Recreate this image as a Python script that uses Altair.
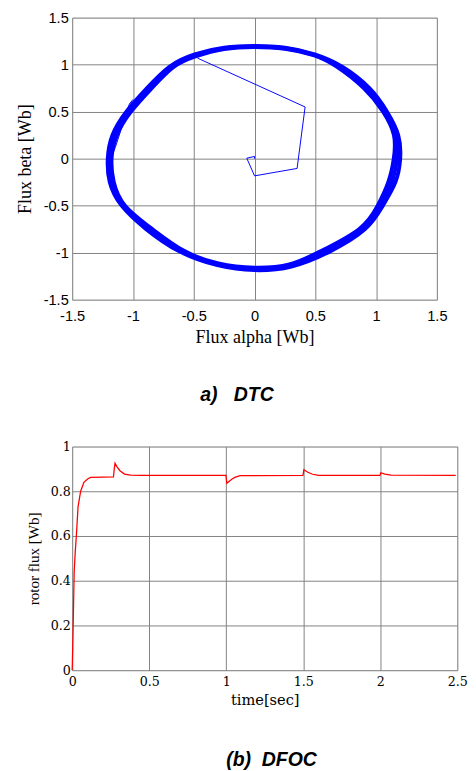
import altair as alt
import pandas as pd

# ---------- top chart: stator flux locus (DTC) ----------
outer_a = [1.204, 1.199, 1.094, 0.965, 0.715, 0.5, 0.25, 0.0, -0.25, -0.5, -0.704, -0.885, -1.064, -1.184, -1.214, -1.204, -1.114, -0.90, -0.634, -0.3, 0.0, 0.3, 0.62, 0.945, 1.054, 1.174]
outer_b = [0.0, 0.25, 0.5, 0.75, 1.0, 1.116, 1.19, 1.202, 1.19, 1.116, 1.0, 0.75, 0.5, 0.25, 0.0, -0.25, -0.5, -0.75, -1.0, -1.15, -1.199, -1.171, -1.0, -0.75, -0.5, -0.25]
mid_a = [1.177, 1.182, 1.08, 0.94, 0.69, 0.5, 0.25, 0.0, -0.25, -0.5, -0.685, -0.865, -1.045, -1.165, -1.20, -1.185, -1.105, -0.87, -0.61, -0.3, 0.0, 0.3, 0.57, 0.925, 1.035, 1.14]
mid_b = [0.0, 0.25, 0.5, 0.75, 1.0, 1.111, 1.185, 1.197, 1.185, 1.101, 1.0, 0.75, 0.5, 0.25, 0.0, -0.25, -0.5, -0.75, -1.0, -1.14, -1.185, -1.158, -1.0, -0.75, -0.5, -0.25]
inner_a = [1.149, 1.166, 1.066, 0.915, 0.665, 0.5, 0.25, 0.0, -0.25, -0.5, -0.666, -0.845, -1.026, -1.146, -1.186, -1.166, -1.096, -0.84, -0.586, -0.3, 0.0, 0.3, 0.52, 0.905, 1.016, 1.109]
inner_b = [0.0, 0.25, 0.5, 0.75, 1.0, 1.106, 1.18, 1.192, 1.18, 1.086, 1.0, 0.75, 0.5, 0.25, 0.0, -0.25, -0.5, -0.75, -1.0, -1.13, -1.171, -1.145, -1.0, -0.75, -0.5, -0.25]

start_a = [0.0, 0.0, -0.064, 0.0, 0.35, 0.416, -0.47]
start_b = [0.0, 0.024, 0.005, -0.183, -0.104, 0.55, 1.07]
left1_a = [-1.0, -1.03, -1.066, -1.12, -1.16, -1.175]
left1_b = [0.63, 0.58, 0.44, 0.27, 0.10, 0.03]
left2_a = [-1.01, -1.05, -1.10, -1.145, -1.17]
left2_b = [0.60, 0.47, 0.30, 0.12, 0.04]

# ---------- bottom chart: rotor flux (DFOC) ----------
t_sec = [0, 0.004, 0.008, 0.013, 0.02, 0.027, 0.038, 0.055, 0.076, 0.1, 0.119, 0.2, 0.268, 0.273, 0.278, 0.29, 0.31, 0.34, 0.38, 0.45, 0.998, 1.004, 1.02, 1.04, 1.06, 1.09, 1.498, 1.504, 1.53, 1.56, 1.6, 1.998, 2.004, 2.03, 2.07, 2.49]
flux = [0, 0.12, 0.26, 0.44, 0.53, 0.6, 0.73, 0.8, 0.84, 0.855, 0.862, 0.863, 0.864, 0.9, 0.925, 0.91, 0.892, 0.877, 0.872, 0.871, 0.871, 0.836, 0.845, 0.856, 0.863, 0.87, 0.871, 0.896, 0.885, 0.876, 0.871, 0.871, 0.883, 0.877, 0.872, 0.871]

xy_ticks = [-1.5, -1, -0.5, 0, 0.5, 1, 1.5]
t_ticks = [0, 0.5, 1, 1.5, 2, 2.5]
f_ticks = [0, 0.2, 0.4, 0.6, 0.8, 1]


def loops(pairs):
    rows = []
    for name, xs, ys in pairs:
        for i, (a, b) in enumerate(zip(xs, ys)):
            rows.append({"path": name, "seq": i, "alpha": a, "beta": b})
    return pd.DataFrame(rows)


ring_df = loops([("outer", outer_a, outer_b), ("mid", mid_a, mid_b), ("inner", inner_a, inner_b)])
trans_df = loops([("start", start_a, start_b), ("left1", left1_a, left1_b), ("left2", left2_a, left2_b)])

BLUE = "#0000ff"
GRID = "#808080"

xsc = alt.Scale(domain=[-1.5, 1.5], nice=False, zero=False)
ysc = alt.Scale(domain=[-1.5, 1.5], nice=False, zero=False)

xax = alt.Axis(values=xy_ticks, labelExpr="datum.value + ''", labelFont="Liberation Sans",
               labelFontSize=15, labelColor="black", labelPadding=9, labelFlush=False,
               title="Flux alpha [Wb]", titleFont="Liberation Serif", titleFontSize=18.5,
               titleFontWeight="normal", titleColor="black", titlePadding=5,
               grid=True, gridColor=GRID, gridOpacity=1, gridWidth=1,
               domain=False, ticks=False)
yax = alt.Axis(values=xy_ticks, labelExpr="datum.value + ''", labelFont="Liberation Sans",
               labelFontSize=15, labelColor="black", labelPadding=4, labelFlush=False,
               title="Flux beta [Wb]", titleFont="Liberation Serif", titleFontSize=18.5,
               titleFontWeight="normal", titleColor="black", titlePadding=9,
               grid=True, gridColor=GRID, gridOpacity=1, gridWidth=1,
               domain=False, ticks=False)

ring = alt.Chart(ring_df).mark_line(color=BLUE, strokeWidth=4, interpolate="basis-closed").encode(
    x=alt.X("alpha:Q", scale=xsc, axis=xax),
    y=alt.Y("beta:Q", scale=ysc, axis=yax),
    detail="path:N",
    order="seq:Q",
)
trans = alt.Chart(trans_df).mark_line(color=BLUE, strokeWidth=1).encode(
    x=alt.X("alpha:Q", scale=xsc),
    y=alt.Y("beta:Q", scale=ysc),
    detail="path:N",
    order="seq:Q",
)

top = alt.layer(ring, trans).properties(
    width=375, height=290,
    title=alt.TitleParams("a)\u00a0\u00a0\u00a0DTC", orient="bottom", anchor="middle",
                          font="Liberation Sans", fontSize=20, fontStyle="italic",
                          fontWeight="bold", color="black", offset=41, dx=-18),
)

flux_df = pd.DataFrame({"t": t_sec, "flux": flux})

bxax = alt.Axis(values=t_ticks, labelExpr="datum.value + ''", labelFont="DejaVu Serif",
                labelFontSize=13, labelColor="black", labelPadding=6, labelFlush=False,
                title="time[sec]", titleFont="DejaVu Serif", titleFontSize=15,
                titleFontWeight="normal", titleColor="black", titlePadding=4,
                grid=True, gridColor=GRID, gridOpacity=1, gridWidth=1,
                domain=False, ticks=False)
byax = alt.Axis(values=f_ticks, labelExpr="datum.value + ''", labelFont="DejaVu Serif",
                labelFontSize=13, labelColor="black", labelPadding=2, labelFlush=False,
                title="rotor flux [Wb]", titleFont="Liberation Serif", titleFontSize=15.5,
                titleFontWeight="normal", titleColor="black", titlePadding=9,
                grid=True, gridColor=GRID, gridOpacity=1, gridWidth=1,
                domain=False, ticks=False)

bottom = alt.Chart(flux_df).mark_line(color="#ff0000", strokeWidth=1.3).encode(
    x=alt.X("t:Q", scale=alt.Scale(domain=[0, 2.5], nice=False), axis=bxax),
    y=alt.Y("flux:Q", scale=alt.Scale(domain=[0, 1], nice=False), axis=byax),
    order="t:Q",
).properties(
    width=396, height=230,
    title=alt.TitleParams("(b)\u00a0\u00a0DFOC", orient="bottom", anchor="middle",
                          font="Liberation Sans", fontSize=20, fontStyle="italic",
                          fontWeight="bold", color="black", offset=44, dx=7),
)

chart = alt.vconcat(top, bottom, spacing=151, bounds="flush").properties(
    padding={"left": 7, "top": -9, "right": 0, "bottom": 0}
).configure_view(stroke="black", strokeWidth=1.8).configure(background="white")

chart.save("out.html", embed_options={"renderer": "svg", "actions": False})
